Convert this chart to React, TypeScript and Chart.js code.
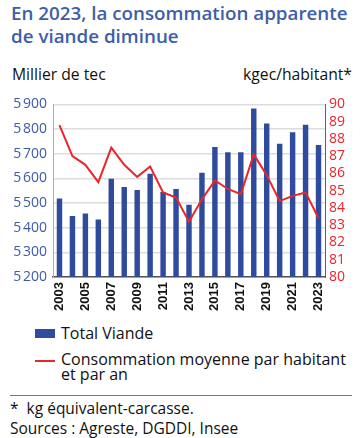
import React, { useEffect, useRef } from "react";
import { Chart, registerables } from "chart.js";

Chart.register(...registerables);

const years = [
  "2003", "2004", "2005", "2006", "2007", "2008", "2009", "2010", "2011", "2012",
  "2013", "2014", "2015", "2016", "2017", "2018", "2019", "2020", "2021", "2022", "2023",
];
const totalViande = [
  5518, 5447, 5458, 5433, 5598, 5565, 5553, 5619, 5545, 5557,
  5493, 5623, 5727, 5706, 5706, 5883, 5823, 5740, 5787, 5817, 5735,
];
const consoParHabitant = [
  88.8, 87.0, 86.5, 85.5, 87.5, 86.5, 85.8, 86.4, 84.9, 84.6,
  83.2, 84.5, 85.6, 85.1, 84.8, 87.1, 85.9, 84.4, 84.7, 84.9, 83.4,
];

const BLUE = "#2f4b9d";
const RED = "#e8262b";
const TITLE_BLUE = "#3d5ea8";
const FONT = "'Open Sans', 'Noto Sans', sans-serif";

export default function App() {
  const canvasRef = useRef<HTMLCanvasElement | null>(null);

  useEffect(() => {
    document.body.style.margin = "0";
    const ctx = canvasRef.current;
    if (!ctx) return;
    const chart = new Chart(ctx, {
      type: "bar",
      data: {
        labels: years,
        datasets: [
          {
            type: "line",
            label: "Consommation moyenne par habitant et par an",
            data: consoParHabitant,
            borderColor: RED,
            backgroundColor: RED,
            borderWidth: 2,
            pointRadius: 0,
            tension: 0,
            yAxisID: "y1",
            order: 0,
          },
          {
            type: "bar",
            label: "Total Viande",
            data: totalViande,
            backgroundColor: BLUE,
            barPercentage: 0.42,
            categoryPercentage: 1,
            yAxisID: "y",
            order: 1,
          },
        ],
      },
      options: {
        animation: false,
        responsive: false,
        maintainAspectRatio: false,
        layout: { padding: { top: 13, left: 0, right: 0, bottom: 0 } },
        plugins: {
          legend: { display: false },
          tooltip: { enabled: false },
        },
        scales: {
          x: {
            offset: true,
            grid: { display: false, drawTicks: false },
            border: { display: true, color: "#555555", width: 1.5 },
            ticks: {
              autoSkip: false,
              minRotation: 90,
              maxRotation: 90,
              padding: 5,
              color: "#111111",
              font: { family: "'Liberation Sans', Arial, sans-serif", size: 13, weight: "bold" },
              callback: (_v: any, i: number) => (i % 2 === 0 ? years[i] : ""),
            },
            afterFit: (s: any) => {
              s.height = 40;
            },
          },
          y: {
            position: "left",
            min: 5200,
            max: 5900,
            grid: { color: "#dddddd", lineWidth: 1.5, drawTicks: false },
            border: { display: true, color: "#9fb2d6", width: 1 },
            ticks: {
              stepSize: 100,
              autoSkip: false,
              padding: 6,
              color: "#3f5aa8",
              font: { family: FONT, size: 14 },
              callback: (v: any) => {
                const s = String(v);
                return s.slice(0, 1) + "\u202f" + s.slice(1);
              },
            },
            afterFit: (s: any) => {
              s.width = 53;
            },
          },
          y1: {
            position: "right",
            min: 80,
            max: 90,
            grid: { display: false, drawTicks: false },
            border: { display: true, color: RED, width: 1 },
            ticks: {
              stepSize: 1,
              autoSkip: false,
              padding: 4,
              color: RED,
              font: { family: FONT, size: 14 },
            },
            afterFit: (s: any) => {
              s.width = 35;
            },
          },
        },
      },
    });
    return () => chart.destroy();
  }, []);

  const text: React.CSSProperties = { position: "absolute", fontFamily: FONT, color: "#111", whiteSpace: "nowrap" };

  return (
    <div style={{ position: "relative", width: 360, height: 438, overflow: "hidden", background: "#fff" }}>
      <div
        style={{
          position: "absolute",
          left: 11,
          top: 2,
          fontFamily: FONT,
          fontWeight: 600,
          fontSize: 18.8,
          lineHeight: "23px",
          color: TITLE_BLUE,
          whiteSpace: "nowrap",
        }}
      >
        En 2023, la consommation apparente
        <br />
        de viande diminue
      </div>
      <div style={{ ...text, left: 12, top: 63, fontSize: 15.7 }}>Millier de tec</div>
      <div style={{ ...text, right: 8, top: 63, fontSize: 15.7 }}>kgec/habitant*</div>
      <canvas ref={canvasRef} width={360} height={227} style={{ position: "absolute", left: 0, top: 90 }} />
      <div style={{ position: "absolute", left: 35, top: 329, width: 20, height: 9, background: BLUE }} />
      <div style={{ ...text, left: 61, top: 322, fontSize: 16, lineHeight: "22px" }}>Total Viande</div>
      <div style={{ position: "absolute", left: 35, top: 360, width: 20, height: 2, background: RED }} />
      <div style={{ ...text, left: 61, top: 352, fontSize: 16, lineHeight: "15px" }}>
        Consommation moyenne par habitant
        <br />
        et par an
      </div>
      <div style={{ position: "absolute", left: 10, top: 395, width: 342, height: 1, background: "#5a77b8" }} />
      <div style={{ ...text, left: 10, top: 398, fontSize: 15.5, lineHeight: "20px" }}>*&nbsp; kg équivalent-carcasse.</div>
      <div style={{ ...text, left: 10, top: 418, fontSize: 15.5, lineHeight: "20px" }}>Sources : Agreste, DGDDI, Insee</div>
    </div>
  );
}
